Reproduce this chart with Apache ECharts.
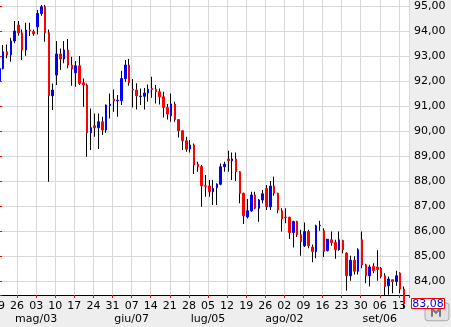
<!DOCTYPE html>
<html>
<head>
<meta charset="utf-8">
<script src="https://cdn.jsdelivr.net/npm/echarts@6/dist/echarts.min.js"></script>
<style>
  html, body { margin: 0; padding: 0; background: #eeeeee; }
  #chart { width: 451px; height: 327px; }
</style>
</head>
<body>
<div id="chart"></div>
<script>
// Trading days (one candle each)
const dates = [
  '2010-04-19','2010-04-20','2010-04-21','2010-04-22','2010-04-23',
  '2010-04-26','2010-04-27','2010-04-28','2010-04-29','2010-04-30',
  '2010-05-03','2010-05-04','2010-05-05','2010-05-06','2010-05-07',
  '2010-05-10','2010-05-11','2010-05-12','2010-05-13','2010-05-14',
  '2010-05-17','2010-05-18','2010-05-19','2010-05-20','2010-05-21',
  '2010-05-24','2010-05-25','2010-05-26','2010-05-27','2010-05-28',
  '2010-05-31','2010-06-01','2010-06-02','2010-06-03','2010-06-04',
  '2010-06-07','2010-06-08','2010-06-09','2010-06-10','2010-06-11',
  '2010-06-14','2010-06-15','2010-06-16','2010-06-17','2010-06-18',
  '2010-06-21','2010-06-22','2010-06-23','2010-06-24','2010-06-25',
  '2010-06-28','2010-06-29','2010-06-30','2010-07-01','2010-07-02',
  '2010-07-05','2010-07-06','2010-07-07','2010-07-08','2010-07-09',
  '2010-07-12','2010-07-13','2010-07-14','2010-07-15','2010-07-16',
  '2010-07-19','2010-07-20','2010-07-21','2010-07-22','2010-07-23',
  '2010-07-26','2010-07-27','2010-07-28','2010-07-29','2010-07-30',
  '2010-08-02','2010-08-03','2010-08-04','2010-08-05','2010-08-06',
  '2010-08-09','2010-08-10','2010-08-11','2010-08-12','2010-08-13',
  '2010-08-16','2010-08-17','2010-08-18','2010-08-19','2010-08-20',
  '2010-08-23','2010-08-24','2010-08-25','2010-08-26','2010-08-27',
  '2010-08-30','2010-08-31','2010-09-01','2010-09-02','2010-09-03',
  '2010-09-06','2010-09-07','2010-09-08','2010-09-09','2010-09-10',
  '2010-09-13','2010-09-14'
];
const monthNames = ['gen','feb','mar','apr','mag','giu','lug','ago','set','ott','nov','dic'];

const openV = [
  92.00,92.49,93.16,93.03,93.59, 94.23,93.92,93.23,94.03,93.97,
  94.16,94.69,94.96,93.92,91.40, 92.23,93.07,92.87,93.23,92.63,
  92.32,92.60,91.92,91.83,89.92, 90.20,90.12,90.36,90.03,91.01,
  91.27,91.19,91.20,92.09,92.63, 91.67,91.63,91.37,91.38,91.51,
  91.69,91.66,91.56,91.36,90.93, 90.60,91.07,90.45,90.00,89.60,
  89.27,89.43,88.66,88.56,87.80, 87.79,87.56,87.72,87.86,88.56,
  88.87,88.80,88.87,88.36,87.50, 86.56,86.80,87.43,86.90,87.23,
  87.69,86.96,87.79,87.50,86.80, 86.55,86.54,85.93,86.37,85.84,
  85.40,85.97,85.35,85.17,86.20, 86.00,85.21,85.64,85.53,85.24,
  85.61,85.11,84.20,84.82,84.38, 85.64,84.64,84.20,84.57,84.55,
  84.50,84.20,83.80,84.04,83.97, 84.31,83.67
];
const closeV = [
  92.49,93.16,93.03,93.59,93.99, 93.92,93.23,94.03,93.99,93.88,
  94.69,94.96,93.92,91.40,91.63, 93.07,92.87,93.23,92.63,92.47,
  92.60,91.89,91.83,89.92,90.12, 90.12,90.36,90.03,91.03,91.07,
  91.19,91.22,92.09,92.63,91.92, 91.63,91.40,91.39,91.51,91.66,
  91.65,91.56,91.36,90.93,90.67, 91.07,90.45,90.00,89.60,89.26,
  89.43,88.63,88.56,87.80,87.78, 87.56,87.69,87.86,88.56,88.66,
  88.80,88.87,88.36,87.50,86.60, 86.80,87.43,86.90,87.23,87.48,
  86.96,87.79,87.50,86.83,86.47, 86.53,85.93,86.37,85.84,85.57,
  85.97,85.40,85.17,86.20,86.22, 85.17,85.66,85.53,85.24,85.64,
  85.24,84.20,84.82,84.38,85.24, 84.64,84.20,84.55,84.41,84.45,
  84.17,83.77,84.07,83.97,84.20, 83.67,83.08
];
const lowV = [
  91.90,92.45,92.90,92.76,93.50, 93.80,92.83,93.00,93.79,93.80,
  93.85,94.60,93.56,87.96,90.83, 91.83,92.43,92.70,92.50,91.80,
  91.76,91.83,90.96,88.96,89.23, 89.76,89.27,89.83,89.92,90.49,
  90.76,90.56,91.03,91.96,91.80, 90.93,90.85,91.03,90.85,91.16,
  91.32,91.09,91.05,90.53,90.45, 90.36,90.36,89.73,89.23,89.16,
  89.13,88.27,88.36,86.96,87.36, 87.36,87.03,87.03,87.82,88.36,
  88.36,88.03,87.99,87.10,86.27, 86.49,86.76,86.86,86.36,87.10,
  86.83,86.83,87.40,86.70,85.97, 86.30,85.67,85.33,85.75,85.00,
  85.35,85.30,84.74,84.90,86.00, 84.95,85.17,85.40,84.88,85.20,
  85.10,83.60,84.00,84.25,84.25, 84.50,83.90,83.77,84.30,84.00,
  84.10,83.40,83.44,83.50,83.80, 83.50,82.90
];
const highV = [
  92.60,93.43,93.45,93.72,94.39, 94.39,94.05,94.32,94.32,94.05,
  94.83,95.03,95.03,94.05,91.89, 93.59,93.29,93.59,93.67,92.96,
  92.79,92.99,92.09,91.89,90.89, 90.69,90.69,90.56,91.05,91.49,
  91.65,91.43,92.40,92.83,92.87, 92.07,91.90,91.69,91.71,91.85,
  92.16,91.83,91.69,91.56,91.07, 91.49,91.16,90.47,90.02,89.76,
  89.63,89.49,88.76,88.63,88.23, 88.03,88.03,87.90,88.69,88.76,
  89.20,89.13,89.13,88.38,87.52, 87.27,87.56,87.56,87.27,87.63,
  87.83,87.99,88.16,87.52,86.90, 86.90,86.56,86.40,86.40,86.04,
  86.33,86.04,85.45,86.24,86.40, 86.10,85.67,85.97,85.64,85.97,
  85.64,85.14,85.00,84.98,85.30, 85.97,84.68,84.64,84.70,85.22,
  84.55,84.30,84.17,84.04,84.40, 84.34,83.77
];
const lastPrice = 83.08;

const wickData = dates.map((d, i) => [i, openV[i], closeV[i], lowV[i], highV[i]]);
const bodyData = dates.map((d, i) => [i, openV[i], closeV[i],
  Math.min(openV[i], closeV[i]), Math.max(openV[i], closeV[i])]);

const chart = echarts.init(document.getElementById('chart'), null, { renderer: 'canvas' });

function xLabel(value) {
  const i = Math.round(value);
  if (Math.abs(value - i) > 1e-6 || !dates[i]) return '';
  const dd = dates[i].slice(8, 10);
  const mm = +dates[i].slice(5, 7);
  let s = dd;
  if (+dd <= 7) s += '\n' + monthNames[mm - 1] + '/' + dd;
  return s;
}
function yLabel(value) {
  if (Math.abs(value - Math.round(value)) > 1e-6) return '';
  return value.toFixed(2).replace('.', ',');
}

const X_MAX = 107.65;
const CANDLE_SHIFT = 0.34; // candles sit slightly right of the weekly ticks

const option = {
  animation: false,
  backgroundColor: '#eeeeee',
  textStyle: { fontFamily: 'DejaVu Sans' },
  grid: {
    left: -2, right: 42, top: -5, bottom: 32,
    show: true, backgroundColor: '#ffffff', borderWidth: 0,
    containLabel: false, outerBoundsMode: 'none'
  },
  xAxis: [
    {
      type: 'value',
      min: 0, max: X_MAX, interval: 5,
      axisLine: { show: true, onZero: false, lineStyle: { color: '#000', width: 1 } },
      axisTick: { show: true, length: 3, lineStyle: { color: '#ff0000', width: 1 } },
      splitLine: { show: true, lineStyle: { color: '#d9d9d9', width: 1 } },
      axisLabel: {
        formatter: xLabel, color: '#000', fontSize: 11, lineHeight: 13.5,
        margin: 4, fontFamily: 'DejaVu Sans', showMinLabel: true, showMaxLabel: true
      }
    },
    {
      type: 'value', show: false,
      min: -CANDLE_SHIFT, max: X_MAX - CANDLE_SHIFT,
      splitLine: { show: false }
    }
  ],
  yAxis: {
    type: 'value', position: 'right',
    min: 83.43, max: 95.43, minInterval: 1, maxInterval: 1, splitNumber: 12,
    axisLine: { show: true, lineStyle: { color: '#000', width: 1 } },
    axisTick: { show: true, length: 4, lineStyle: { color: '#ff0000', width: 1 } },
    splitLine: { show: true, lineStyle: { color: '#d9d9d9', width: 1 } },
    axisLabel: {
      formatter: yLabel, color: '#000', fontSize: 11, margin: 5,
      fontFamily: 'DejaVu Sans'
    }
  },
  series: [
    {
      type: 'candlestick', name: 'wick', data: wickData, xAxisIndex: 1,
      encode: { x: 0, y: [1, 2, 3, 4] },
      barWidth: 0.01, silent: true, clip: true,
      itemStyle: { color: '#000', color0: '#000', borderColor: '#000', borderColor0: '#000', borderColorDoji: '#000', borderWidth: 1 }
    },
    {
      type: 'candlestick', name: 'body', data: bodyData, xAxisIndex: 1,
      encode: { x: 0, y: [1, 2, 3, 4] },
      barWidth: 2, clip: true,
      itemStyle: { color: '#0000ff', color0: '#ff0000', borderColor: '#0000ff', borderColor0: '#ff0000', borderColorDoji: '#ff0000', borderWidth: 1 }
    }
  ]
};
chart.setOption(option);

// Last-price marker and small logo box beside the price axis
const yPx = chart.convertToPixel({ yAxisIndex: 0 }, lastPrice);
const axisX = chart.convertToPixel({ xAxisIndex: 0 }, X_MAX);
chart.setOption({
  graphic: [
    {
      type: 'rect', z: 10,
      shape: { x: axisX + 16, y: yPx - 1, width: 24, height: 18, r: 3 },
      style: { fill: '#e2e2e2', stroke: '#a8a8a8', lineWidth: 1 }
    },
    {
      type: 'polyline', z: 11,
      shape: { points: [[axisX + 23, yPx + 13], [axisX + 23, yPx + 5], [axisX + 27, yPx + 9], [axisX + 31, yPx + 5], [axisX + 31, yPx + 13]] },
      style: { stroke: '#777', lineWidth: 2, fill: null }
    },
    {
      type: 'rect', z: 12,
      shape: { x: axisX + 2.5, y: Math.round(yPx) - 5.5, width: 33, height: 10 },
      style: { fill: '#ffffff', stroke: '#ff0000', lineWidth: 1 }
    },
    {
      type: 'text', z: 13,
      x: axisX + 19, y: yPx,
      style: {
        text: lastPrice.toFixed(2).replace('.', ','),
        fill: '#0000ff', font: '11px "DejaVu Sans"',
        align: 'center', verticalAlign: 'middle'
      }
    }
  ]
});
</script>
</body>
</html>
